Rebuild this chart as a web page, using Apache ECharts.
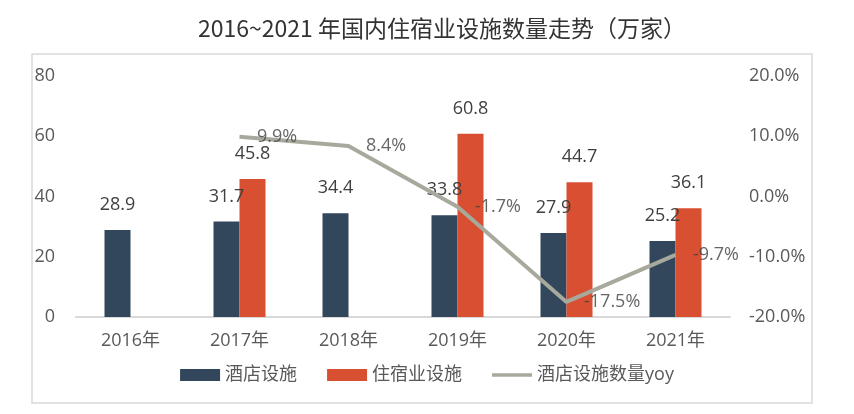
<!DOCTYPE html>
<html>
<head>
<meta charset="utf-8">
<script src="https://cdn.jsdelivr.net/npm/echarts@6/dist/echarts.min.js"></script>
<style>html,body{margin:0;padding:0;background:#fff}#c{width:854px;height:414px}</style>
</head>
<body>
<div id="c"></div>
<script>
const categories = ['2016年','2017年','2018年','2019年','2020年','2021年'];
const hotelValues = [28.9, 31.7, 34.4, 33.8, 27.9, 25.2];
const lodgingValues = ['-', 45.8, '-', 60.8, 44.7, 36.1];
const yoyValues = ['-', 9.9, 8.4, -1.7, -17.5, -9.7];
const leftTicks = {min: 0, max: 80, interval: 20};
const rightTicks = {min: -20, max: 20, interval: 10};

const FONT = '"Open Sans", "Noto Sans CJK SC", sans-serif';
const TFONT = '"Noto Sans CJK SC", "Noto Sans", sans-serif';
const chart = echarts.init(document.getElementById('c'));
chart.setOption({
  animation: false,
  textStyle: {fontFamily: FONT},
  title: {
    text: '2016~2021 年国内住宿业设施数量走势（万家）',
    left: 193, top: 12,
    textStyle: {fontFamily: TFONT, fontSize: 23, fontWeight: 'normal', color: '#333333'}
  },
  graphic: [{
    type: 'rect', silent: true, z: -1,
    shape: {x: 32, y: 54, width: 780, height: 349},
    style: {fill: 'none', stroke: '#D9D9D9', lineWidth: 1.5}
  }],
  legend: {
    left: 'center', top: 361,
    itemWidth: 40, itemHeight: 12, itemGap: 30,
    textStyle: {fontFamily: FONT, fontSize: 18, color: '#595959'},
    data: [
      {name: '酒店设施', icon: 'rect'},
      {name: '住宿业设施', icon: 'rect'},
      {name: '酒店设施数量yoy', icon: 'path://M0,0 L45,0 L45,4 L0,4 Z'}
    ]
  },
  grid: {left: 76, right: 124, top: 76, bottom: 97},
  xAxis: {
    type: 'category', data: categories,
    axisLine: {lineStyle: {color: '#D9D9D9', width: 2}},
    axisTick: {show: false},
    axisLabel: {fontFamily: FONT, fontSize: 18, color: '#595959', margin: 15}
  },
  yAxis: [{
    type: 'value', min: leftTicks.min, max: leftTicks.max, interval: leftTicks.interval,
    splitLine: {show: false}, axisLine: {show: false}, axisTick: {show: false},
    axisLabel: {fontFamily: FONT, fontSize: 18, color: '#595959', margin: 21}
  }, {
    type: 'value', min: rightTicks.min, max: rightTicks.max, interval: rightTicks.interval,
    splitLine: {show: false}, axisLine: {show: false}, axisTick: {show: false},
    axisLabel: {fontFamily: FONT, fontSize: 18, color: '#595959', margin: 19,
      formatter: v => v.toFixed(1) + '%'}
  }],
  series: [{
    name: '酒店设施', type: 'bar', data: hotelValues, barWidth: 26, barGap: '0%',
    itemStyle: {color: '#33475C'},
    label: {show: true, position: 'top', distance: 16, fontFamily: FONT, fontSize: 18, color: '#404040'}
  }, {
    name: '住宿业设施', type: 'bar', data: lodgingValues, barWidth: 26, barGap: '0%',
    itemStyle: {color: '#D84F31'},
    label: {show: true, position: 'top', distance: 16, fontFamily: FONT, fontSize: 18, color: '#404040'}
  }, {
    name: '酒店设施数量yoy', type: 'line', yAxisIndex: 1, data: yoyValues,
    symbol: 'none', showSymbol: false, z: 5,
    lineStyle: {color: '#A7A99C', width: 4},
    itemStyle: {color: '#A7A99C'}
  }, {
    name: 'yoy标签', type: 'scatter', yAxisIndex: 1, data: yoyValues,
    symbolSize: 1, z: 6, silent: true,
    itemStyle: {color: 'rgba(0,0,0,0)'},
    label: {show: true, position: 'right', distance: 17, fontFamily: FONT, fontSize: 18, color: '#404040',
      formatter: p => p.value.toFixed(1) + '%'}
  }]
});
</script>
</body>
</html>
